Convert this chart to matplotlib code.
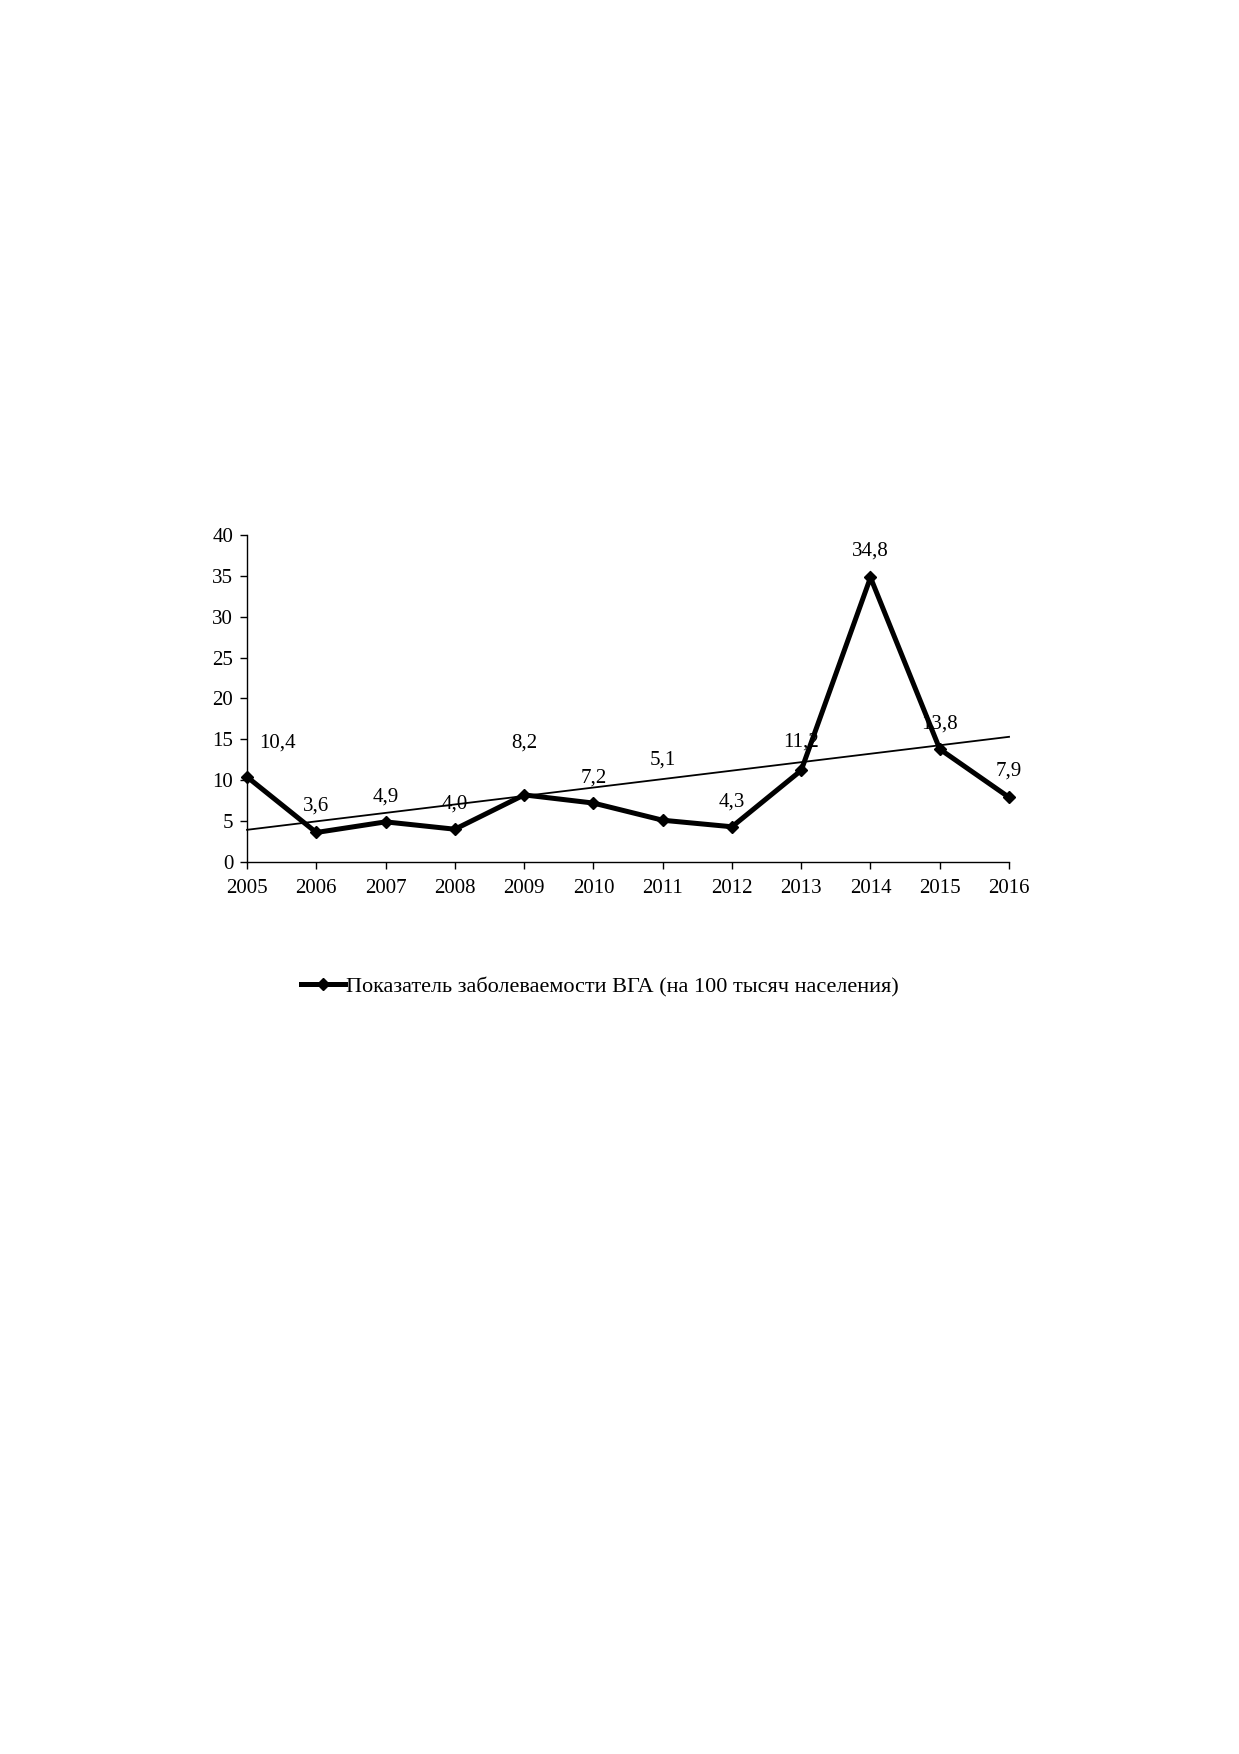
import numpy as np
import matplotlib
matplotlib.use("Agg")
import matplotlib.pyplot as plt

years = ["2005", "2006", "2007", "2008", "2009", "2010", "2011", "2012", "2013", "2014", "2015", "2016"]
values = [10.4, 3.6, 4.9, 4.0, 8.2, 7.2, 5.1, 4.3, 11.2, 34.8, 13.8, 7.9]
value_labels = ["10,4", "3,6", "4,9", "4,0", "8,2", "7,2", "5,1", "4,3", "11,2", "34,8", "13,8", "7,9"]
series_name = "Показатель заболеваемости ВГА (на 100 тысяч населения)"
yticks = [0, 5, 10, 15, 20, 25, 30, 35, 40]

# label offsets (pixels) relative to each point
label_dx = [30, 0, 0, 0, 0, 0, 0, 0, 0, 0, 0, 0]
label_dy = [34, 26, 25, 25, 52, 25, 60, 25, 28, 26, 25, 26]

plt.rcParams['font.family'] = ['Liberation Serif', 'DejaVu Serif']

fig = plt.figure(figsize=(12.39, 17.54), dpi=100)
ax = fig.add_axes([0.1994, 0.5086, 0.8144 - 0.1994, 0.695 - 0.5086])

x = np.arange(len(years))
line, = ax.plot(x, values, color='black', lw=3.6, marker='D', markersize=6.5,
                solid_joinstyle='miter', zorder=3, label=series_name)

coef = np.polyfit(x, values, 1)
ax.plot(x[[0, -1]], np.polyval(coef, x[[0, -1]]), color='black', lw=1.3, zorder=2)

for xi, v, lab, dx, dy in zip(x, values, value_labels, label_dx, label_dy):
    ax.annotate(lab, (xi, v), xytext=(dx, dy), textcoords='offset pixels',
                ha='center', va='center', fontsize=15)

ax.set_xlim(0, len(years) - 1)
ax.set_ylim(0, 40)
ax.set_xticks(x)
ax.set_xticklabels(years)
ax.set_yticks(yticks)
ax.set_yticklabels([str(t) for t in yticks])
ax.tick_params(axis='both', direction='out', length=5, width=1, labelsize=15, colors='black')
ax.tick_params(axis='y', pad=5)
ax.tick_params(axis='x', pad=7)
for s in ['top', 'right']:
    ax.spines[s].set_visible(False)
for s in ['left', 'bottom']:
    ax.spines[s].set_linewidth(1)
    ax.spines[s].set_color('black')
for art in ax.lines:
    art.set_clip_on(False)

fig.legend(handles=[line], loc='center', bbox_to_anchor=(0.484, 1 - 987 / 1754),
           frameon=False, fontsize=16, handlelength=2.0, handletextpad=0.05,
           markerscale=1.0)

fig.savefig("out.png", dpi=100, facecolor='white')
